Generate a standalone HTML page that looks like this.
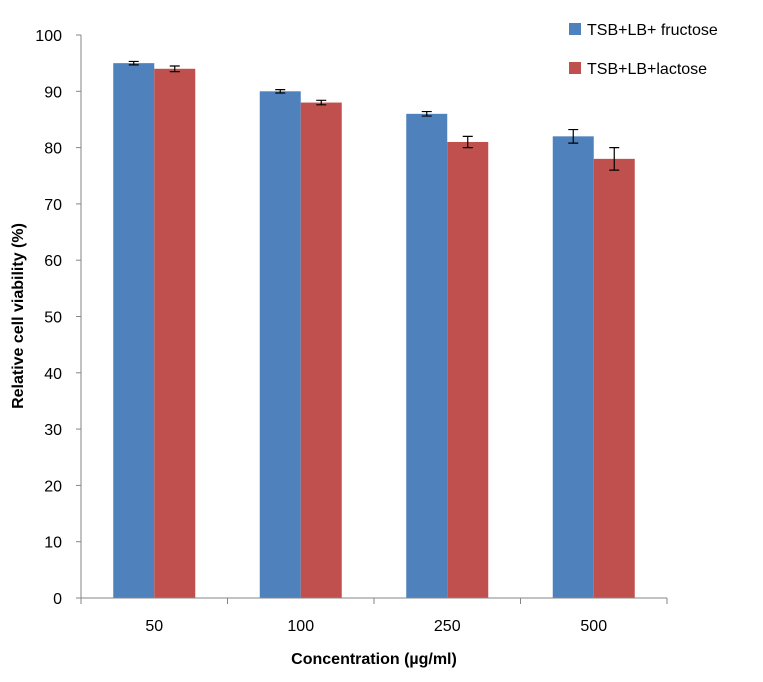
<!DOCTYPE html>
<html><head><meta charset="utf-8"><style>
body{margin:0;background:#fff;font-family:"Liberation Sans",Arial,sans-serif}
svg text{font-family:"Liberation Sans",Arial,sans-serif}
</style></head><body>
<svg id="chart" width="763" height="677" xmlns="http://www.w3.org/2000/svg">
<g id="plot"></g>
<line x1="81" y1="35" x2="81" y2="598" stroke="#868686" stroke-width="1"/>
<line x1="81" y1="598" x2="667" y2="598" stroke="#868686" stroke-width="1"/>
<text transform="translate(23,316) rotate(-90)" text-anchor="middle" font-size="16" font-weight="bold">Relative cell viability (%)</text>
<text x="374" y="664" text-anchor="middle" font-size="16" font-weight="bold">Concentration (µg/ml)</text>
<g>
<rect x="569" y="23" width="12" height="12" fill="#4F81BD"/>
<text x="587" y="35" font-size="16">TSB+LB+ fructose</text>
<rect x="569" y="62" width="12" height="12" fill="#C0504D"/>
<text x="587" y="74" font-size="16">TSB+LB+lactose</text>
</g>
</svg>
<script>
const categories=["50","100","250","500"];
const fructose=[95,90,86,82];
const fructoseErr=[0.3,0.3,0.4,1.2];
const lactose=[94,88,81,78];
const lactoseErr=[0.5,0.4,1.0,2.0];
const yTicks=[0,10,20,30,40,50,60,70,80,90,100];
const NS="http://www.w3.org/2000/svg";
const g=document.getElementById('plot');
const x0=81,x1=667,y0=598,y1=35;
const y=v=>y0-(v/100)*(y0-y1);
const bw=(x1-x0)/categories.length;
function mk(t,a){const e=document.createElementNS(NS,t);for(const k in a)e.setAttribute(k,a[k]);g.appendChild(e);return e;}
yTicks.forEach(t=>{
 const l=mk('line',{x1:x0-5,x2:x0,y1:y(t),y2:y(t),stroke:'#868686'});
 
 
 const tx=mk('text',{x:x0-19,y:y(t)+6,'text-anchor':'end','font-size':'16'});
 tx.textContent=t;
 
 
});
for(let i=0;i<=categories.length;i++){
 const l=mk('line',{x1:x0+i*bw,x2:x0+i*bw,y1:y0,y2:y0+6,stroke:'#868686'});
 
 
}
const barW=41;
categories.forEach((c,i)=>{
 const cx=x0+i*bw+bw/2;
 [[fructose,fructoseErr,'#4F81BD',cx-barW,'fructose'],[lactose,lactoseErr,'#C0504D',cx,'lactose']].forEach(([d,e,col,bx,nm])=>{
  const r=mk('rect',{x:bx,y:y(d[i]),width:barW,height:y0-y(d[i]),fill:col});
  
  
  const ex=bx+barW/2, t=y(d[i]+e[i]), b=y(d[i]-e[i]);
  const eb=mk('path',{d:`M${ex},${t}V${b}M${ex-5},${t}H${ex+5}M${ex-5},${b}H${ex+5}`,stroke:'#000','stroke-width':'1.2',fill:'none'});
  
  
 });
 const tx=mk('text',{x:cx,y:631,'text-anchor':'middle','font-size':'16'});
 tx.textContent=c;
 
 
});
</script>
</body></html>
